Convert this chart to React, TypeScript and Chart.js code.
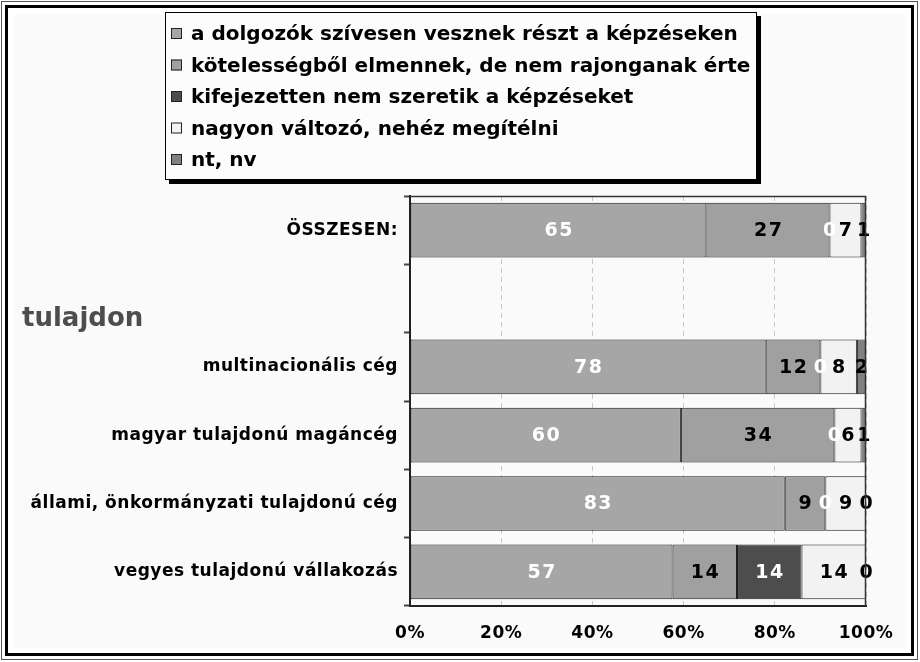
import React, { useEffect, useRef } from "react";
import { Chart, registerables } from "chart.js";

Chart.register(...registerables);

const categories = [
  "ÖSSZESEN:",
  "",
  "multinacionális cég",
  "magyar tulajdonú magáncég",
  "állami, önkormányzati tulajdonú cég",
  "vegyes tulajdonú vállakozás",
];

const seriesNames = [
  "a dolgozók szívesen vesznek részt a képzéseken",
  "kötelességből elmennek, de nem rajonganak érte",
  "kifejezetten nem szeretik a képzéseket",
  "nagyon változó, nehéz megítélni",
  "nt, nv",
];

const szivesen = [65, null, 78, 60, 83, 57];
const kotelesseg = [27, null, 12, 34, 9, 14];
const nemSzeretik = [0, null, 0, 0, 0, 14];
const valtozo = [7, null, 8, 6, 9, 14];
const ntnv = [1, null, 2, 1, 0, 0];

const xTicks = ["0%", "20%", "40%", "60%", "80%", "100%"];
const groupLabel = "tulajdon";

const seriesValues = [szivesen, kotelesseg, nemSzeretik, valtozo, ntnv];
const fillColors = ["#a6a6a6", "#a0a0a0", "#4d4d4d", "#f2f2f2", "#808080"];
const labelColors = ["#ffffff", "#000000", "#ffffff", "#000000", "#000000"];

const FONT = "'DejaVu Sans', Verdana, sans-serif";

export default function App() {
  const ref = useRef<HTMLCanvasElement | null>(null);

  useEffect(() => {
    const canvas = ref.current;
    if (!canvas) return;

    const rowSums = categories.map((_, i) =>
      seriesValues.reduce((s, arr) => s + (arr[i] ?? 0), 0)
    );

    const datasets = seriesValues.map((arr, k) => ({
      label: seriesNames[k],
      data: arr.map((v, i) => (v === null ? null : (v / rowSums[i]) * 100)),
      raw: arr,
      backgroundColor: fillColors[k],
      borderColor: "#1a1a1a",
      borderWidth: 1,
      borderSkipped: false,
      categoryPercentage: 1,
      barPercentage: 0.8,
    }));

    const decor = {
      id: "decor",
      beforeDraw(chart: any) {
        const c = chart.ctx;
        c.fillStyle = "#ffffff";
        c.fillRect(0, 0, 920, 662);
        c.fillStyle = "#fafafa";
        c.fillRect(14, 14, 892, 634);
        c.strokeStyle = "#555";
        c.lineWidth = 1;
        c.strokeRect(1.5, 1.5, 916, 658);
        c.strokeStyle = "#000";
        c.lineWidth = 3;
        c.strokeRect(6.5, 6.5, 906, 648);
        // letter spacing for axis tick labels (Verdana-like width)
        c.letterSpacing = "0.5px";
      },
      afterDraw(chart: any) {
        const c = chart.ctx;
        const a = chart.chartArea;
        c.save();
        c.letterSpacing = "0px";
        c.strokeStyle = "#333";
        c.lineWidth = 1.5;
        c.beginPath();
        c.moveTo(a.left, a.top + 0.5);
        c.lineTo(a.right - 0.5, a.top + 0.5);
        c.lineTo(a.right - 0.5, a.bottom);
        c.stroke();

        c.fillStyle = "#4d4d4d";
        c.font = `bold 26px ${FONT}`;
        c.textAlign = "left";
        c.textBaseline = "middle";
        c.fillText(groupLabel, 22, 319);

        const lx = 165, ly = 12, lw = 592, lh = 168;
        c.fillStyle = "#000";
        c.fillRect(lx + 4, ly + 4, lw, lh);
        c.fillStyle = "#fcfcfc";
        c.fillRect(lx, ly, lw, lh);
        c.strokeStyle = "#000";
        c.lineWidth = 1;
        c.strokeRect(lx + 0.5, ly + 0.5, lw - 1, lh - 1);
        c.font = `bold 20px ${FONT}`;
        c.letterSpacing = "0px";
        c.textBaseline = "middle";
        seriesNames.forEach((name, k) => {
          const cy = 34 + k * 31.5;
          c.fillStyle = fillColors[k];
          c.fillRect(171, cy - 6, 11, 11);
          c.strokeStyle = "#222";
          c.strokeRect(171.5, cy - 5.5, 10, 10);
          c.fillStyle = "#000";
          c.fillText(name, 191, cy + 1);
        });
        c.restore();
        c.letterSpacing = "0px";
      },
      afterDatasetsDraw(chart: any) {
        const c = chart.ctx;
        c.save();
        c.font = `bold 19px ${FONT}`;
        c.letterSpacing = "1.5px";
        c.textAlign = "center";
        c.textBaseline = "middle";
        chart.data.datasets.forEach((ds: any, k: number) => {
          const meta = chart.getDatasetMeta(k);
          meta.data.forEach((el: any, i: number) => {
            const v = ds.raw[i];
            if (v === null || v === undefined) return;
            const x = (el.x + el.base) / 2 + 0.75;
            c.fillStyle = labelColors[k];
            c.fillText(String(v), x, el.y + 1);
          });
        });
        c.restore();
      },
    };

    const chart = new Chart(canvas, {
      type: "bar",
      data: { labels: categories, datasets: datasets as any },
      options: {
        indexAxis: "y",
        animation: false,
        responsive: false,
        maintainAspectRatio: false,
        layout: { padding: { left: 0, top: 196, right: 54, bottom: 0 } },
        plugins: {
          legend: { display: false },
          tooltip: { enabled: false },
        },
        scales: {
          x: {
            stacked: true,
            min: 0,
            max: 100,
            afterFit(scale: any) {
              scale.height = 56;
            },
            ticks: {
              stepSize: 20,
              padding: 17,
              color: "#000",
              font: { family: FONT, size: 17, weight: "bold" },
              callback: (_v: any, i: number) => xTicks[i],
            },
            grid: {
              color: "#c8c8c8",
              lineWidth: 1,
              drawTicks: false,
            },
            border: { display: true, color: "#222", width: 2, dash: [5, 4] },
          },
          y: {
            stacked: true,
            afterFit(scale: any) {
              scale.width = 410;
            },
            ticks: {
              padding: 6,
              color: "#000",
              font: { family: FONT, size: 17, weight: "bold" },
            },
            grid: {
              display: true,
              drawOnChartArea: false,
              drawTicks: true,
              tickLength: 6,
              tickColor: "#444",
              tickWidth: 2,
              offset: true,
            },
            border: { display: true, color: "#222", width: 2 },
          },
        },
      } as any,
      plugins: [decor],
    });

    return () => chart.destroy();
  }, []);

  return (
    <div style={{ position: "absolute", left: 0, top: 0, width: 920, height: 662 }}>
      <canvas ref={ref} width={920} height={662} style={{ display: "block", width: 920, height: 662 }} />
    </div>
  );
}
